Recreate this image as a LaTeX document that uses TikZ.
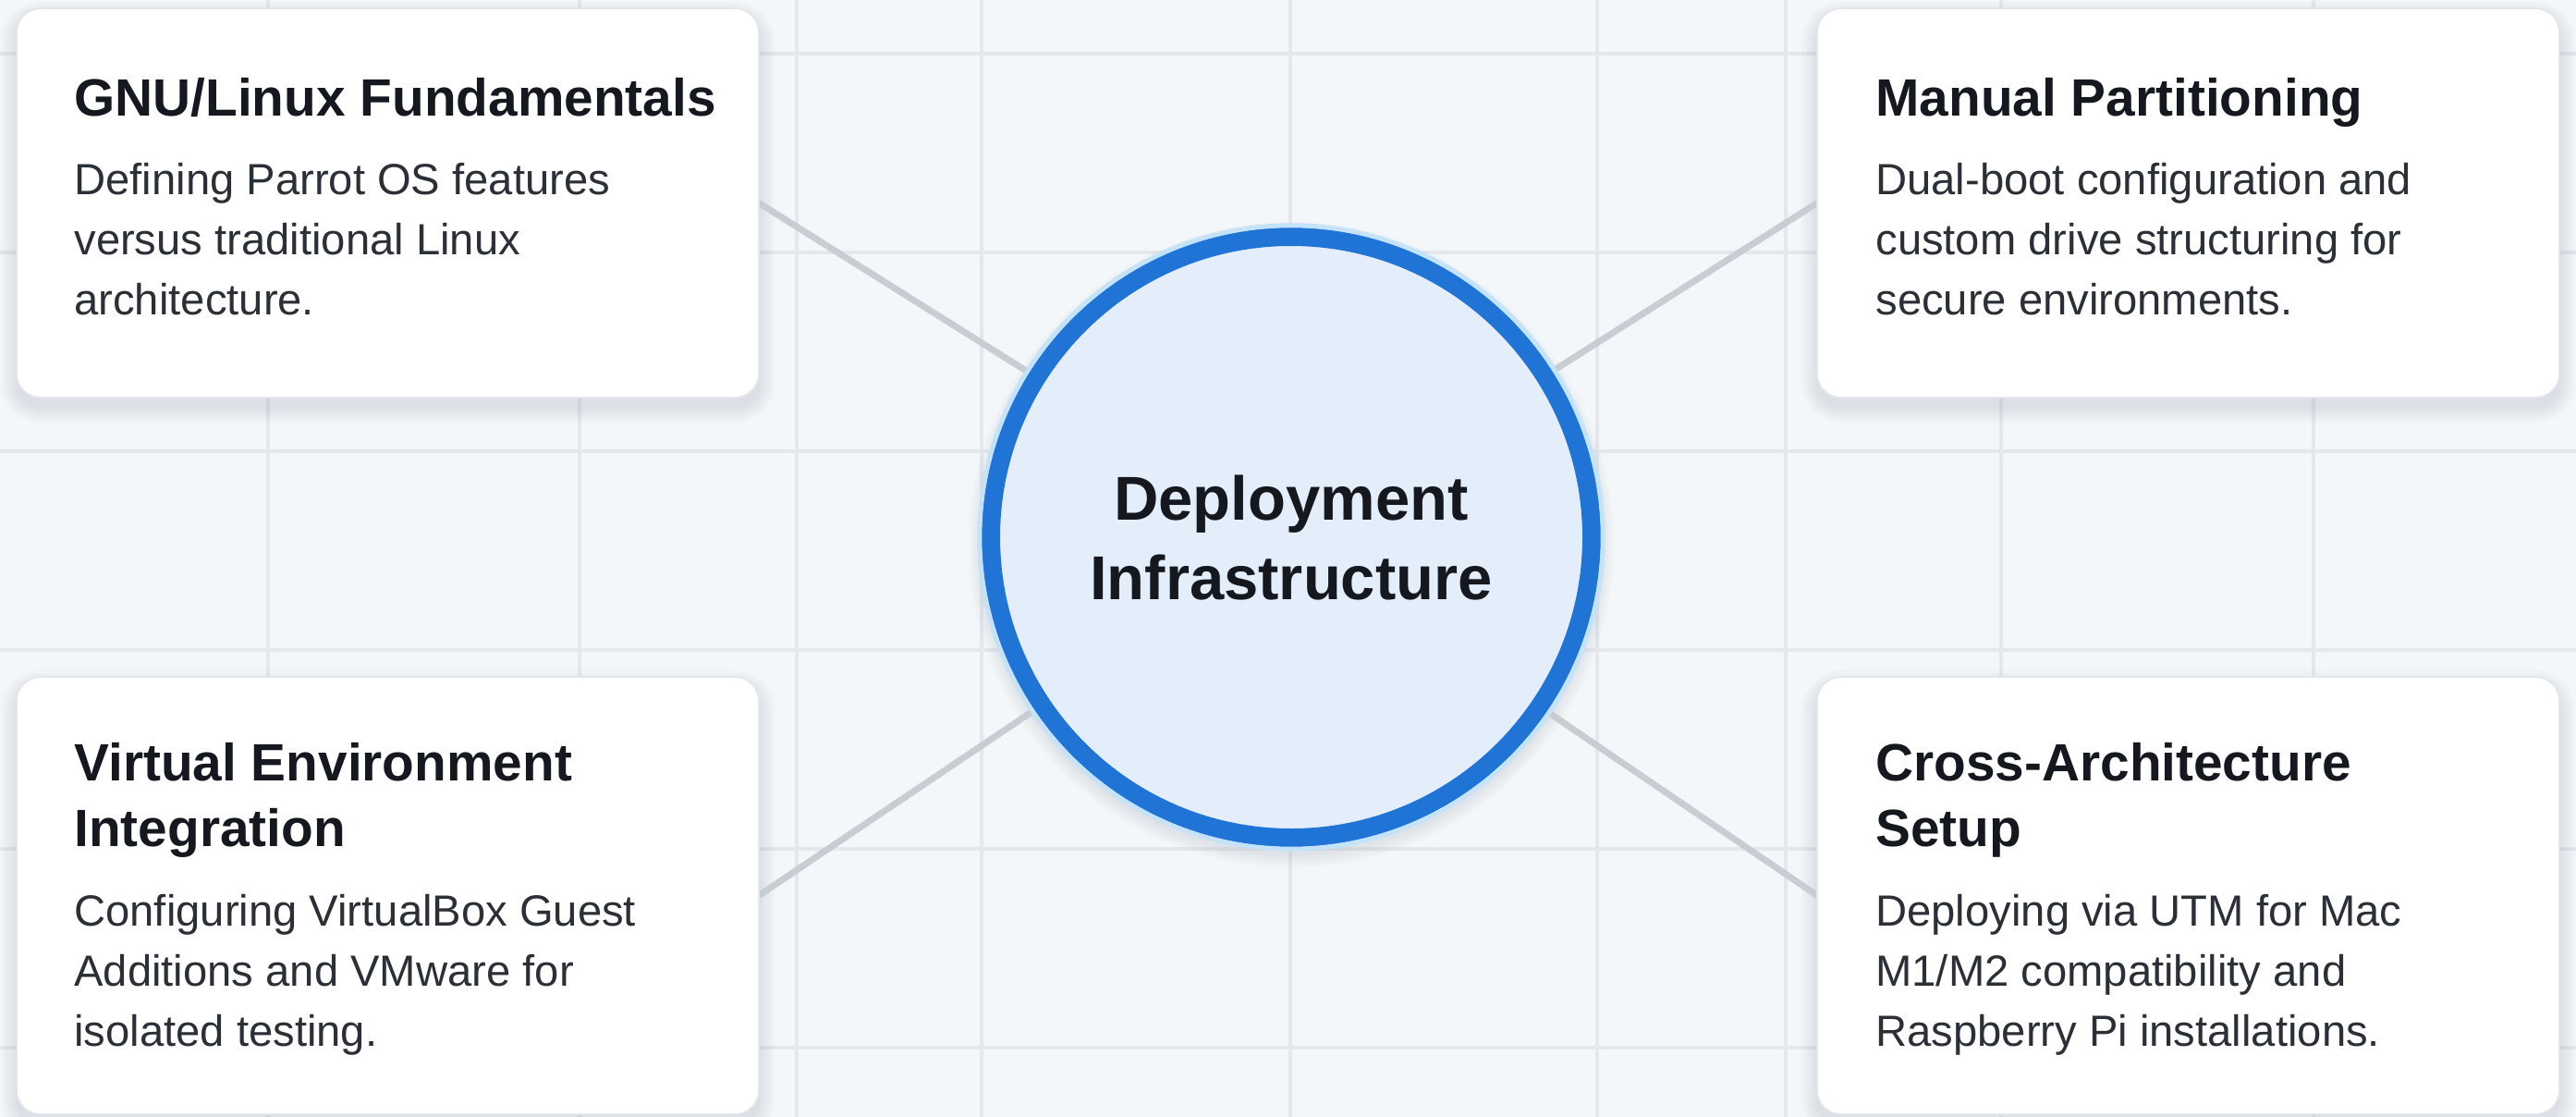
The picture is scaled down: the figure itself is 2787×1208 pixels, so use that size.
\documentclass[tikz,border=0pt]{standalone}
\usepackage{fontspec}
\setmainfont{Liberation Sans}
\usetikzlibrary{calc}
\definecolor{bgc}{HTML}{F4F7FA}
\definecolor{gridc}{HTML}{E4E8ED}
\definecolor{linkc}{HTML}{C8CDD3}
\definecolor{hubfill}{HTML}{E4EEFA}
\definecolor{hubline}{HTML}{1F74D6}
\definecolor{haloc}{HTML}{C4E2F8}
\definecolor{titlec}{HTML}{15191F}
\definecolor{bodyc}{HTML}{2B2F36}
\definecolor{cardline}{HTML}{E3E6EA}
\definecolor{shadowc}{HTML}{5A6370}
\pgfdeclarelayer{gridlayer}
\pgfdeclarelayer{shadowlayer}
\pgfdeclarelayer{linklayer}
\pgfsetlayers{gridlayer,shadowlayer,linklayer,main}
\begin{document}
\begin{tikzpicture}[x=0.5pt,y=-0.5pt,
  card/.style={rectangle, rounded corners=13pt, fill=white, draw=cardline,
    line width=0.8pt, minimum width=401.5pt, inner sep=0pt, outer sep=0pt},
  topcard/.style={card, minimum height=210.5pt},
  botcard/.style={card, minimum height=236.5pt},
  hubnode/.style={circle, minimum size=325pt, inner sep=0pt, outer sep=0pt,
    fill=hubfill, draw=hubline, line width=10pt},
  ttl/.style={anchor=base west, inner sep=0pt, text=titlec,
    font=\fontsize{28.4}{34}\selectfont\bfseries},
  bdy/.style={anchor=base west, inner sep=0pt, text=bodyc,
    font=\fontsize{23.6}{30}\selectfont},
  hubtxt/.style={anchor=base, inner sep=0pt, text=titlec,
    font=\fontsize{33.5}{40}\selectfont\bfseries},
  gridline/.style={draw=gridc, line width=2pt},
  link/.style={draw=linkc, line width=3.5pt},
  shadowpiece/.style={fill=shadowc, fill opacity=0.022}
]
\useasboundingbox (0,0) rectangle (2787,1208);
\begin{pgfonlayer}{gridlayer}
  \fill[bgc] (0,0) rectangle (2787,1208);
  \foreach \gx in {290,627,862,1062,1396,1728,1932,2165,2503}
    \draw[gridline] (\gx,0) -- (\gx,1208);
  \foreach \gy in {58,273,488,703,918,1133}
    \draw[gridline] (0,\gy) -- (2787,\gy);
\end{pgfonlayer}

% cards
\node[topcard] (gnu)  at (419.5,219.5) {};
\node[topcard] (part) at (2367.5,219.5) {};
\node[botcard] (virt) at (419.5,968.5) {};
\node[botcard] (arch) at (2367.5,968.5) {};

% hub
\node[hubnode] (hub) at (1397,581) {};
\draw[haloc, line width=2.5pt] (hub.center) circle (168.6pt);
\node[hubtxt] (hubA) at (1397,562) {Deployment};
\node[hubtxt] (hubB) at (1397,648) {Infrastructure};

% soft shadows
\begin{pgfonlayer}{shadowlayer}
  \foreach \c in {gnu,part,virt,arch}{
    \foreach \s in {2,5,8,11,14,17}{
      \fill[shadowpiece, rounded corners=13pt+\s*0.5pt]
        ($(\c.north west)+(-\s,-\s+10)$) rectangle ($(\c.south east)+(\s,\s+10)$);
    }
  }
  \foreach \s in {2,5,8,11,14}{
    \fill[shadowpiece] ($(hub.center)+(0,8)$) circle (167.5pt+\s*0.5pt);
  }
\end{pgfonlayer}

% connectors
\begin{pgfonlayer}{linklayer}
  \draw[link] (gnu.east) -- (hub);
  \draw[link] (part.west) -- (hub);
  \draw[link] (virt.east) -- (hub);
  \draw[link] (arch.west) -- (hub);
\end{pgfonlayer}

% texts: top-left
\node[ttl] (gnuT)  at ($(gnu.north west)+(62,117)$) {GNU/Linux Fundamentals};
\node[bdy] (gnuB1) at ($(gnu.north west)+(62,202)$) {Defining Parrot OS features};
\node[bdy] (gnuB2) at ($(gnu.north west)+(62,267)$) {versus traditional Linux};
\node[bdy] (gnuB3) at ($(gnu.north west)+(62,332)$) {architecture.};

% top-right
\node[ttl] (partT)  at ($(part.north west)+(63,117)$) {Manual Partitioning};
\node[bdy] (partB1) at ($(part.north west)+(63,202)$) {Dual-boot configuration and};
\node[bdy] (partB2) at ($(part.north west)+(63,267)$) {custom drive structuring for};
\node[bdy] (partB3) at ($(part.north west)+(63,332)$) {secure environments.};

% bottom-left
\node[ttl] (virtT1) at ($(virt.north west)+(62,112)$) {Virtual Environment};
\node[ttl] (virtT2) at ($(virt.north west)+(62,183)$) {Integration};
\node[bdy] (virtB1) at ($(virt.north west)+(62,269)$) {Configuring VirtualBox Guest};
\node[bdy] (virtB2) at ($(virt.north west)+(62,334)$) {Additions and VMware for};
\node[bdy] (virtB3) at ($(virt.north west)+(62,399)$) {isolated testing.};

% bottom-right
\node[ttl] (archT1) at ($(arch.north west)+(63,112)$) {Cross-Architecture};
\node[ttl] (archT2) at ($(arch.north west)+(63,183)$) {Setup};
\node[bdy] (archB1) at ($(arch.north west)+(63,269)$) {Deploying via UTM for Mac};
\node[bdy] (archB2) at ($(arch.north west)+(63,334)$) {M1/M2 compatibility and};
\node[bdy] (archB3) at ($(arch.north west)+(63,399)$) {Raspberry Pi installations.};
\end{tikzpicture}
\end{document}
